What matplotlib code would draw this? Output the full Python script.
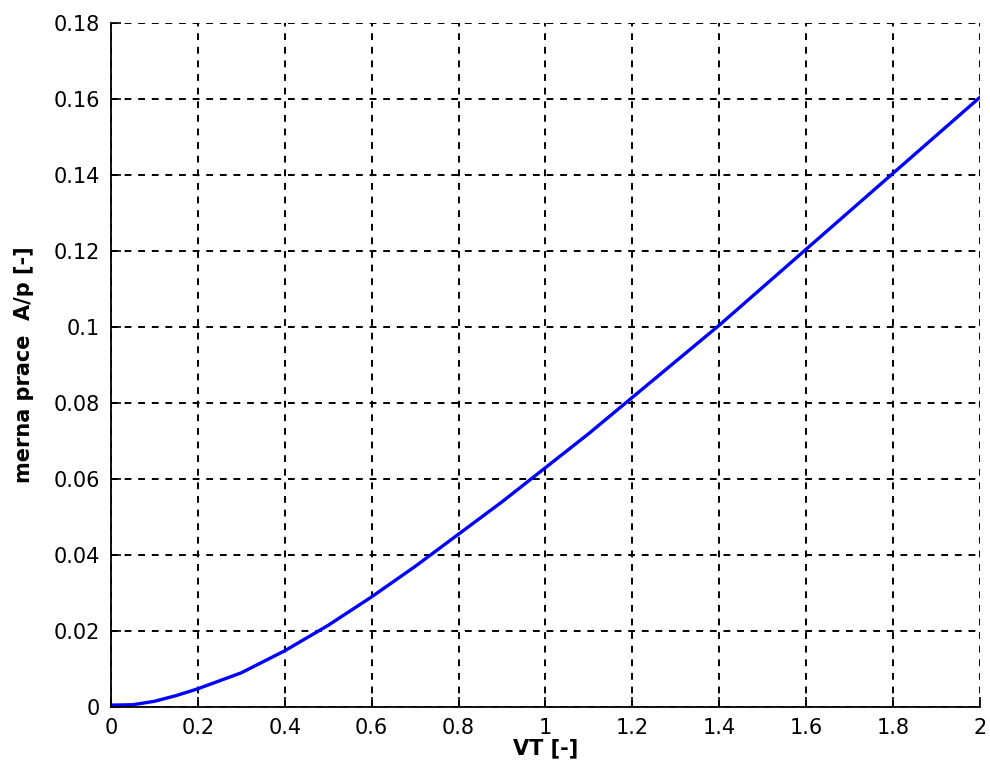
import matplotlib
matplotlib.use("Agg")
import matplotlib.pyplot as plt
import numpy as np

# specific work vs VT
vt = [0.0, 0.05, 0.1, 0.15, 0.2, 0.3, 0.4, 0.5, 0.6, 0.7, 0.8, 0.9, 1.0,
      1.1, 1.2, 1.3, 1.4, 1.5, 1.6, 1.7, 1.8, 1.9, 2.0]
work = [0.0005, 0.0006, 0.0015, 0.003, 0.0048, 0.009, 0.0148, 0.0215, 0.029,
        0.037, 0.0455, 0.054, 0.063, 0.072, 0.0815, 0.091, 0.1005, 0.1105,
        0.1205, 0.1305, 0.1405, 0.1505, 0.1605]

plt.rcParams['font.family'] = ['DejaVu Sans']

fig = plt.figure(figsize=(9.9, 7.79), dpi=100)
ax = fig.add_axes([0.112, 0.0924, 0.878, 0.878])

ax.plot(vt, work, color='#0000ff', linewidth=2.4)

ax.set_xlim(0, 2)
ax.set_ylim(0, 0.18)
ax.set_xticks(np.arange(0, 2.01, 0.2))
ax.set_yticks(np.arange(0, 0.181, 0.02))
ax.set_xticklabels(['0', '0.2', '0.4', '0.6', '0.8', '1', '1.2', '1.4', '1.6', '1.8', '2'])
ax.set_yticklabels(['0', '0.02', '0.04', '0.06', '0.08', '0.1', '0.12', '0.14', '0.16', '0.18'])
ax.tick_params(direction='in', length=7, width=1.2, labelsize=15, pad=8)

ax.grid(True, color='black', linestyle=(0, (3.5, 3.5)), linewidth=1.4)
ax.spines['top'].set_visible(False)
ax.spines['right'].set_visible(False)
ax.spines['left'].set_linewidth(1.3)
ax.spines['bottom'].set_linewidth(1.3)

ax.set_xlabel('VT [-]', fontsize=15, fontweight='bold', labelpad=0)
ax.set_ylabel('merna prace  A/p [-]', fontsize=15, fontweight='bold', labelpad=14)

fig.savefig('out.png', dpi=100)
